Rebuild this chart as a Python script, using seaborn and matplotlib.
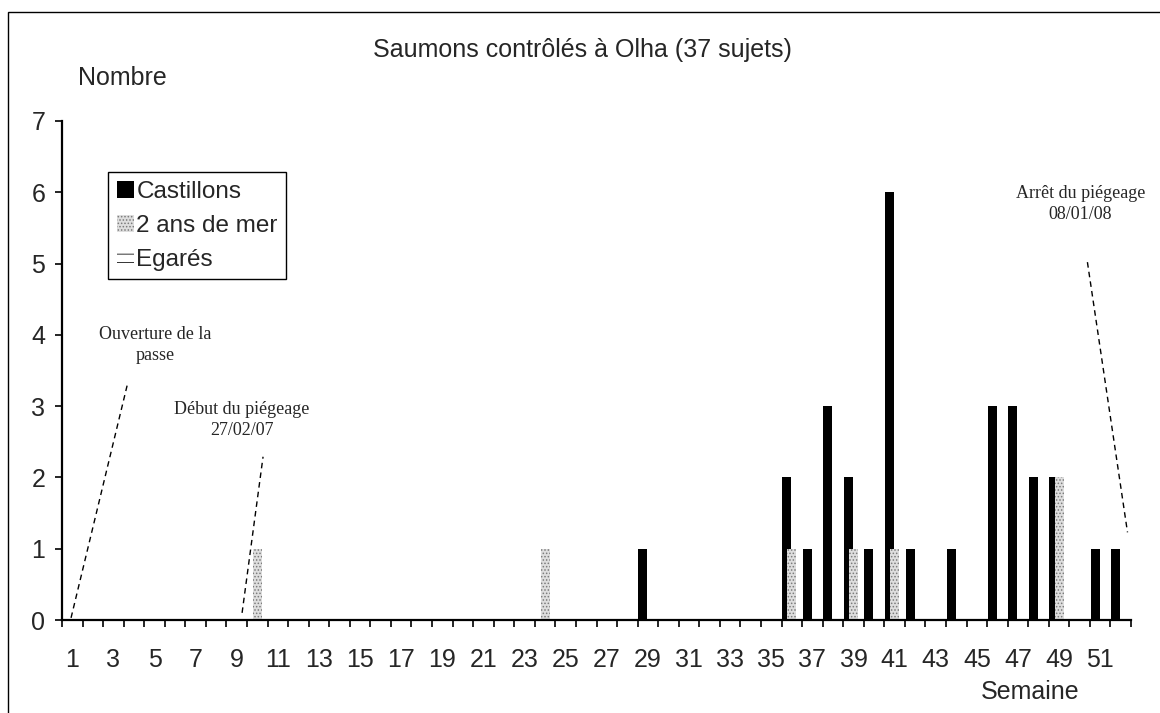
import numpy as np
import pandas as pd
import matplotlib.pyplot as plt
import seaborn as sns
from matplotlib.patches import Patch, Rectangle

# weekly counts of salmon checked at Olha
weeks = list(range(1, 53))
castillons_weeks = [29, 36, 37, 38, 39, 40, 41, 42, 44, 46, 47, 48, 49, 51, 52]
castillons_counts = [1, 2, 1, 3, 2, 1, 6, 1, 1, 3, 3, 2, 2, 1, 1]
mer_weeks = [10, 24, 36, 39, 41, 49]
mer_counts = [1, 1, 1, 1, 1, 2]
egares_weeks = []
egares_counts = []
series_names = ['Castillons', '2 ans de mer', 'Egarés']
week_labels = [str(w) for w in weeks if w % 2 == 1]

rows = []
for name, wk, cnt in [(series_names[0], castillons_weeks, castillons_counts),
                      (series_names[1], mer_weeks, mer_counts),
                      (series_names[2], egares_weeks, egares_counts)]:
    lookup = dict(zip(wk, cnt))
    for w in weeks:
        rows.append({'Semaine': w, 'Nombre': lookup.get(w, 0), 'Serie': name})
df = pd.DataFrame(rows)

sns.set_theme(style='white')
plt.rcParams['font.family'] = ['Liberation Sans', 'DejaVu Sans']
plt.rcParams['hatch.color'] = '#7a7a7a'
plt.rcParams['hatch.linewidth'] = 0.7

fig = plt.figure(figsize=(11.6, 7.13), dpi=100)
ax = fig.add_axes([62 / 1160, 1 - 620 / 713, (1131 - 62) / 1160, (620 - 121) / 713])

sns.barplot(data=df, x='Semaine', y='Nombre', hue='Serie', order=weeks,
            hue_order=series_names, palette=['black', '#dedede', '#bbbbbb'],
            saturation=1, width=0.75, gap=-0.75, dodge=True, legend=False,
            linewidth=0, ax=ax)

# dotted texture for the "2 ans de mer" bars
for bar in ax.containers[1]:
    bar.set_hatch('.....')
    bar.set_edgecolor('#7a7a7a')
    bar.set_linewidth(0)

ax.set_ylim(0, 7)
ax.set_xlim(-0.5, len(weeks) - 0.5)
ax.set_xlabel('')
ax.set_ylabel('')

# ticks between categories, labels on odd weeks
ax.set_xticks(np.arange(len(weeks) + 1) - 0.5, [''] * (len(weeks) + 1))
ax.set_xticks([i for i, w in enumerate(weeks) if w % 2 == 1], week_labels, minor=True)
ax.tick_params(axis='x', which='major', direction='out', length=5, width=1.2,
               color='black', bottom=True)
ax.tick_params(axis='x', which='minor', length=0, pad=20, labelsize=18, bottom=True)
ax.set_yticks(range(0, 8))
ax.tick_params(axis='y', direction='out', length=5, width=1.2, color='black',
               left=True, pad=7, labelsize=18)

for side in ['top', 'right']:
    ax.spines[side].set_visible(False)
for side in ['left', 'bottom']:
    ax.spines[side].set_color('black')
    ax.spines[side].set_linewidth(1.6)

# annotations
serif = ['Liberation Serif', 'DejaVu Serif']
ax.text(4.03, 3.86, 'Ouverture de la\npasse', ha='center', va='center',
        family=serif, fontsize=13, linespacing=1.3)
ax.plot([-0.06, 2.71], [0.03, 3.34], color='black', lw=1, ls=(0, (4, 3)))
ax.text(8.26, 2.81, 'Début du piégeage\n27/02/07', ha='center', va='center',
        family=serif, fontsize=13, linespacing=1.3)
ax.plot([8.26, 9.28], [0.10, 2.29], color='black', lw=1, ls=(0, (4, 3)))
ax.text(49.04, 5.83, 'Arrêt du piégeage\n08/01/08', ha='center', va='center',
        family=serif, fontsize=13, linespacing=1.3)
ax.plot([49.38, 51.33], [5.02, 1.23], color='black', lw=1, ls=(0, (4, 3)),
        clip_on=False)

handles = [Patch(facecolor='black', edgecolor='black', lw=0),
           Patch(facecolor='#dedede', edgecolor='#7a7a7a', hatch='.....', lw=0),
           Patch(facecolor='white', edgecolor='#333333', hatch='--', lw=0)]
leg = ax.legend(handles, series_names, loc='upper left',
                bbox_to_anchor=((108 - 62) / 1069, (620 - 172) / 499),
                borderaxespad=0, fontsize=17.5, frameon=True, fancybox=False,
                framealpha=1, edgecolor='black', handlelength=0.7,
                handleheight=0.7, handletextpad=0.12, labelspacing=0.5,
                borderpad=0.35)
leg.get_frame().set_linewidth(1)

fig.text(582 / 1160, 1 - 50 / 713, 'Saumons contrôlés à Olha (37 sujets)',
         ha='center', va='center', fontsize=18)
fig.text(122 / 1160, 1 - 78 / 713, 'Nombre', ha='center', va='center', fontsize=18)
fig.text(1030 / 1160, 1 - 692 / 713, 'Semaine', ha='center', va='center', fontsize=18)

# outer frame, cut by the right and bottom edges
fig.patches.append(Rectangle((8 / 1160, -0.1), 1.2, 1 - 12 / 713 + 0.1,
                             transform=fig.transFigure, fill=False,
                             edgecolor='black', lw=1))

fig.savefig('out.png', dpi=100)
